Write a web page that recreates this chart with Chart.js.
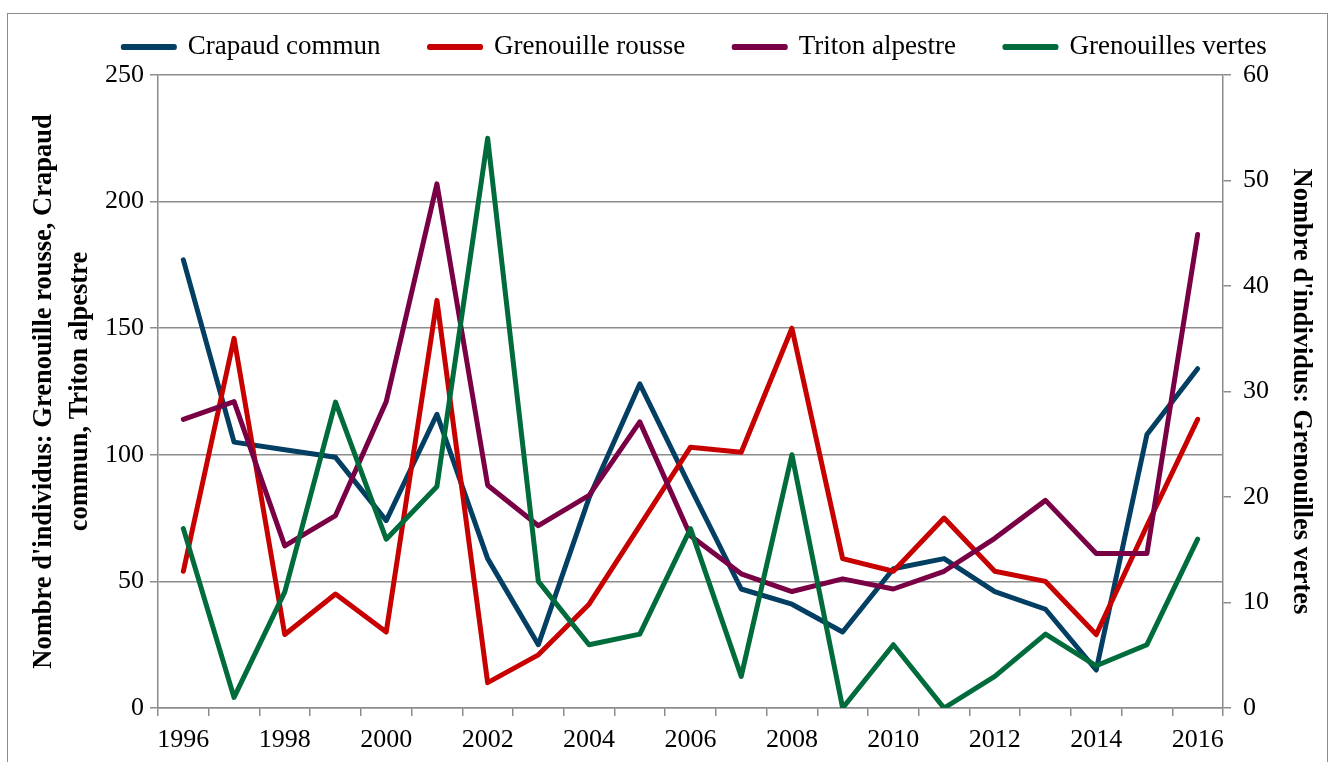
<!DOCTYPE html>
<html>
<head>
<meta charset="utf-8">
<script src="https://cdn.jsdelivr.net/npm/chart.js@4"></script>
<style>
  html, body { margin: 0; padding: 0; background: #ffffff; }
  #frame { position: absolute; left: 7px; top: 13px; width: 1321px; height: 760px; border: 1px solid #8c8c8c; box-sizing: border-box; }
  #wrap { position: absolute; left: 0; top: 0; width: 1336px; height: 762px; }
</style>
</head>
<body>
<div id="frame"></div>
<div id="wrap"><canvas id="c" width="1336" height="762"></canvas></div>
<script>
const years = ['1996','1997','1998','1999','2000','2001','2002','2003','2004','2005','2006','2007','2008','2009','2010','2011','2012','2013','2014','2015','2016'];
const crapaudCommun = [177,105,102,99,74,116,59,25,83,128,87,47,41,30,55,59,46,39,15,108,134];
const grenouilleRousse = [54,146,29,45,30,161,10,21,41,72,103,101,150,59,54,75,54,50,29,72,114];
const tritonAlpestre = [114,121,64,76,121,207,88,72,84,113,68,53,46,51,47,54,67,82,61,61,187];
const grenouillesVertes = [17,1,11,29,16,21,54,12,6,7,17,3,24,0,6,0,3,7,4,6,16];
const leftTicks = [0,50,100,150,200,250];
const rightTicks = [0,10,20,30,40,50,60];

const FONT = "'Liberation Serif', 'Times New Roman', serif";
const GRID = '#8c8c8c';

function ds(label, data, color, axis, order) {
  return {
    label, data, yAxisID: axis, order,
    borderColor: color, backgroundColor: color,
    borderWidth: 5, pointRadius: 0, tension: 0,
    borderJoinStyle: 'round', borderCapStyle: 'round'
  };
}

// Widen the spacing between legend entries and place the legend row like the original
const legendTweak = {
  id: 'legendTweak',
  afterLayout(chart) {
    const lg = chart.legend;
    if (!lg) return;
    const oldP = lg.options.labels.padding;
    const newP = 49;
    const n = lg.legendItems.length;
    lg.lineWidths = lg.lineWidths.map(w => w + (newP - oldP) * n);
    lg.options.labels.padding = newP;
    lg.left += 22; lg.right += 22;
    lg.top = 47 - newP - 13.5;
    lg.bottom = chart.chartArea.top;
    lg.height = lg.bottom - lg.top;
  }
};

new Chart(document.getElementById('c'), {
  type: 'line',
  data: {
    labels: years,
    datasets: [
      ds('Crapaud commun', crapaudCommun, '#033E63', 'y', 4),
      ds('Grenouille rousse', grenouilleRousse, '#C70000', 'y', 3),
      ds('Triton alpestre', tritonAlpestre, '#790045', 'y', 2),
      ds('Grenouilles vertes', grenouillesVertes, '#006B3B', 'y2', 1)
    ]
  },
  plugins: [legendTweak],
  options: {
    responsive: false,
    animation: false,
    layout: { padding: { left: 20, right: 10, top: 24, bottom: 0 } },
    plugins: {
      tooltip: { enabled: false },
      legend: {
        position: 'top',
        labels: {
          sort: (a, b) => a.datasetIndex - b.datasetIndex,
          boxWidth: 51, boxHeight: 1, padding: 14,
          color: '#000', font: { family: FONT, size: 27 }
        }
      }
    },
    scales: {
      x: {
        type: 'category',
        offset: true,
        grid: { offset: true, drawOnChartArea: false, drawTicks: true, tickLength: 8, color: GRID, lineWidth: 1.5 },
        border: { color: GRID, width: 1.5 },
        ticks: {
          autoSkip: false, maxRotation: 0, padding: 9,
          color: '#000', font: { family: FONT, size: 26 },
          callback: function (v, i) { return i % 2 === 0 ? this.getLabelForValue(v) : ''; }
        },
        afterFit: s => { s.height = 54; }
      },
      y: {
        position: 'left',
        min: 0, max: 250,
        afterBuildTicks: s => { s.ticks = leftTicks.map(v => ({ value: v })); },
        grid: { color: GRID, lineWidth: 1.5, tickLength: 8 },
        border: { color: GRID, width: 1.5 },
        ticks: { color: '#000', padding: 6, font: { family: FONT, size: 26 } },
        title: {
          display: true,
          text: ["Nombre d'individus: Grenouille rousse, Crapaud", 'commun, Triton alpestre'],
          color: '#000', padding: { top: 6, bottom: 0 },
          font: { family: FONT, size: 26.5, weight: 'bold', lineHeight: 1.35 }
        },
        afterFit: s => { s.width = 138; }
      },
      y2: {
        position: 'right',
        min: 0, max: 60,
        afterBuildTicks: s => { s.ticks = rightTicks.map(v => ({ value: v })); },
        grid: { drawOnChartArea: false, color: GRID, lineWidth: 1.5, tickLength: 8 },
        border: { color: GRID, width: 1.5 },
        ticks: { color: '#000', padding: 12, font: { family: FONT, size: 26 } },
        title: {
          display: true,
          text: "Nombre d'individus: Grenouilles vertes",
          color: '#000', padding: { top: 7, bottom: 0 },
          font: { family: FONT, size: 26.5, weight: 'bold', lineHeight: 1.35 }
        },
        afterFit: s => { s.width = 103; }
      }
    }
  }
});
</script>
</body>
</html>
